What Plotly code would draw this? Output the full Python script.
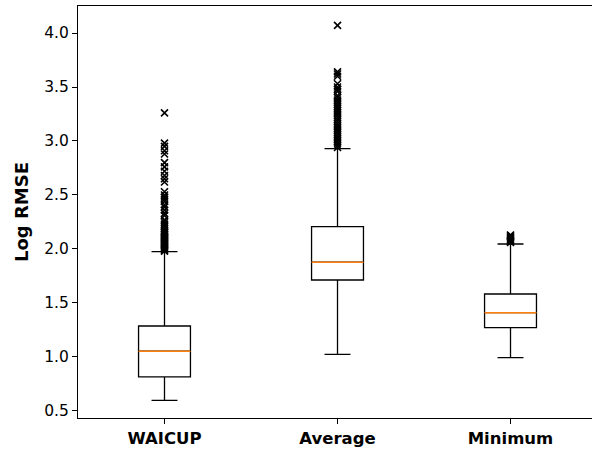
import plotly.graph_objects as go

categories = ["WAICUP", "Average", "Minimum"]
positions = [1, 2, 3]

q1 = [0.815, 1.713, 1.271]
median = [1.053, 1.877, 1.410]
q3 = [1.287, 2.207, 1.583]
lower_whisker = [0.599, 1.025, 0.994]
upper_whisker = [1.975, 2.930, 2.046]

outliers_waicup = [1.98, 1.99, 2.00, 2.01, 2.02, 2.03, 2.04, 2.05, 2.06, 2.07, 2.08, 2.09,
                   2.10, 2.11, 2.12, 2.13, 2.14, 2.15, 2.16, 2.17, 2.19, 2.21, 2.23, 2.25,
                   2.27, 2.31, 2.33, 2.36, 2.39, 2.41, 2.44, 2.46, 2.48, 2.50, 2.53,
                   2.62, 2.65, 2.68, 2.72, 2.76, 2.80, 2.88, 2.91, 2.95, 2.98, 3.26]
outliers_average = [2.94, 2.96, 2.98, 3.00, 3.02, 3.04, 3.06, 3.08, 3.10, 3.12, 3.14, 3.16,
                    3.18, 3.20, 3.22, 3.24, 3.26, 3.28, 3.30, 3.32, 3.34, 3.36, 3.38, 3.40,
                    3.42, 3.46, 3.48, 3.50, 3.53, 3.60, 3.62, 3.64, 4.07]
outliers_minimum = [2.06, 2.07, 2.08, 2.09, 2.10, 2.11, 2.12, 2.13]

box_width = 0.3

fig = go.Figure()

fig.add_trace(go.Box(
    x=positions, q1=q1, median=median, q3=q3,
    lowerfence=lower_whisker, upperfence=upper_whisker,
    boxpoints=False, width=box_width, whiskerwidth=0.5,
    fillcolor="rgba(0,0,0,0)",
    line=dict(color="black", width=1.3),
    showlegend=False, hoverinfo="skip",
))

# median lines (orange)
mx, my = [], []
for p, m in zip(positions, median):
    mx += [p - box_width / 2, p + box_width / 2, None]
    my += [m, m, None]
fig.add_trace(go.Scatter(x=mx, y=my, mode="lines",
                         line=dict(color="#ff7f0e", width=1.5),
                         showlegend=False, hoverinfo="skip"))

# outliers
ox, oy = [], []
for p, vals in zip(positions, [outliers_waicup, outliers_average, outliers_minimum]):
    ox += [p] * len(vals)
    oy += vals
fig.add_trace(go.Scatter(x=ox, y=oy, mode="markers",
                         marker=dict(symbol="x-thin", size=7,
                                     line=dict(color="black", width=1.6)),
                         showlegend=False, hoverinfo="skip"))

fig.update_layout(
    width=592, height=450,
    margin=dict(l=78, r=0, t=6, b=32),
    paper_bgcolor="white", plot_bgcolor="white",
    font=dict(family="DejaVu Sans", color="black"),
)
fig.update_xaxes(
    range=[0.5, 3.471], tickvals=positions, ticktext=categories,
    tickfont=dict(size=16.5, family="DejaVu Sans", weight="bold"),
    ticks="outside", ticklen=5, tickcolor="black", tickwidth=1,
    showline=True, linecolor="black", linewidth=1, mirror=True,
    showgrid=False, zeroline=False, automargin=False,
)
fig.update_yaxes(
    range=[0.435, 4.25], tickvals=[0.5, 1.0, 1.5, 2.0, 2.5, 3.0, 3.5, 4.0],
    tickformat=".1f", tickfont=dict(size=15.5),
    ticks="outside", ticklen=5, tickcolor="black", tickwidth=1,
    showline=True, linecolor="black", linewidth=1,
    showgrid=False, zeroline=False, automargin=False,
    title=dict(text="<b>Log RMSE</b>", font=dict(size=18), standoff=10),
)

fig.write_html("out.html", config={"responsive": False, "displayModeBar": False},
               post_script="document.body.style.margin='0';document.body.style.overflow='hidden';")
